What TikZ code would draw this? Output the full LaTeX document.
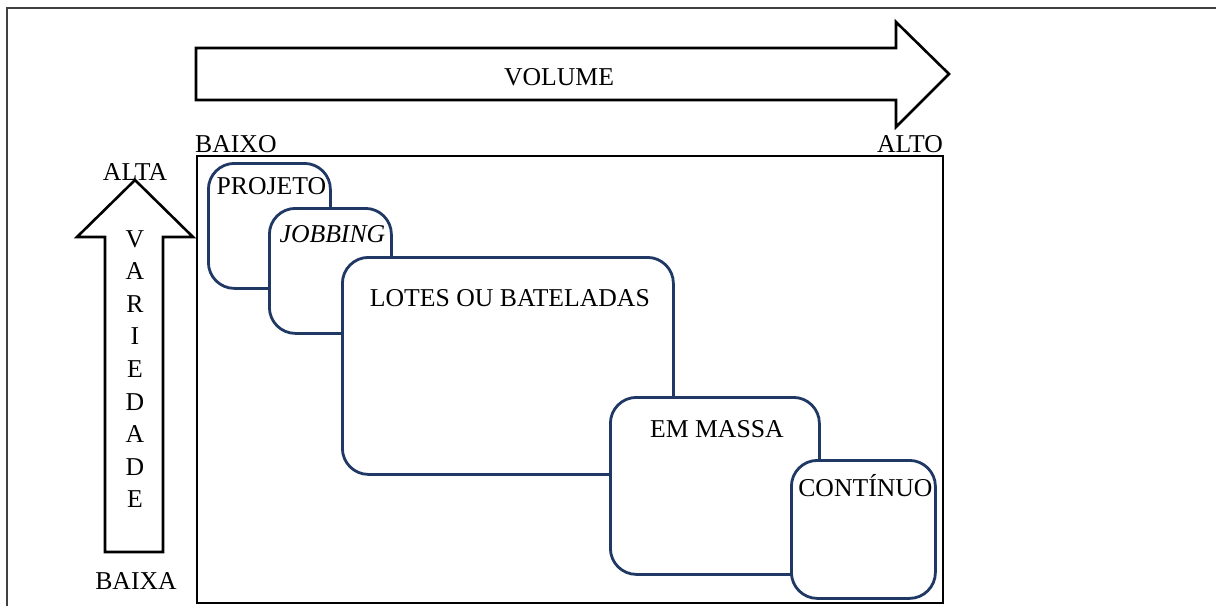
\documentclass[tikz,border=0pt]{standalone}
\usepackage{fontspec}
\setmainfont{Liberation Serif}
\usetikzlibrary{calc}
\definecolor{boxblue}{HTML}{1F3864}
\tikzstyle{label} = [font=\fontsize{25.7}{30}\selectfont,inner sep=0pt]
\tikzstyle{bigarrow} = [draw,line width=2.6pt,line join=miter,fill=white]
\tikzstyle{processbox} = [draw=boxblue,line width=2.8pt,fill=white,rounded corners=26pt,anchor=north west,inner sep=0pt]
\tikzstyle{frameline} = [draw,line width=1.2pt,black!75]

\begin{document}
\begin{tikzpicture}[x=1pt,y=-1pt]
      \useasboundingbox (0,0) rectangle (1216,606);
      %frame
      \path[frameline] (7,606) -- (7,8) -- (1216,8);
      %volume arrow
      \path[bigarrow] (196,48) -- (896,48) -- (896,22) -- (949,74) -- (896,127) -- (896,100) -- (196,100) -- cycle;
      \node[label, anchor=base] (volume) at (559,85) {VOLUME};
      \node[label, anchor=base west] (baixo) at (195,152) {BAIXO};
      \node[label, anchor=base east] (alto) at (943,152) {ALTO};
      %variety arrow
      \path[bigarrow] (105,552) -- (105,237) -- (77,237) -- (135,180) -- (193,237) -- (163,237) -- (163,552) -- cycle;
      \node[label, anchor=base] (alta) at (135,180) {ALTA};
      \node[label, anchor=base] (baixa) at (136,589) {BAIXA};
      \foreach \letter [count=\i] in {V,A,R,I,E,D,A,D,E}
      {
        \node[label, anchor=base] (letter\i) at (135,{247+32.6*(\i-1)}) {\letter};
      };
      %main rectangle
      \draw[line width=2.5pt] (197,156) rectangle (943,603);
      %process boxes
      \foreach \boxname/\x/\y/\w/\h/\drop/\txt in {
        projeto/207/162/122/125/32/PROJETO,
        jobbing/268/207/122/125/35/\textit{JOBBING},
        lotes/341/256/331/217/50/LOTES OU BATELADAS,
        massa/609/396/209/177/41/EM MASSA,
        continuo/790/459/144/138/37/CONTÍNUO}
      {
        \node[processbox, minimum width=\w pt, minimum height=\h pt] (\boxname) at (\x,\y) {};
        \node[label, anchor=base] (\boxname text) at ($(\boxname.north)+(2,\drop)$) {\txt};
      };
\end{tikzpicture}
\end{document}
